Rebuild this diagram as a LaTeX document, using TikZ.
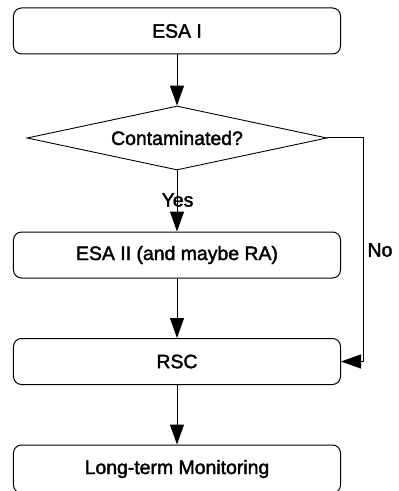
\documentclass[tikz,border=0pt]{standalone}
\usepackage{fontspec}
\setmainfont{Liberation Sans}[FakeBold=2]
\usetikzlibrary{shapes.geometric,arrows.meta}
\begin{document}
\begin{tikzpicture}[x=1bp,y=-1bp,
  font=\fontsize{19.5}{23}\selectfont,
  stepbox/.style={draw,line width=1bp,rounded corners=8bp,minimum width=327bp,minimum height=46bp,inner sep=0pt},
  decision/.style={draw,line width=0.9bp,shape=diamond,minimum width=300bp,minimum height=64bp,inner sep=0pt,aspect=4.7},
  flow/.style={line width=1bp,-{Triangle[length=20bp,width=14bp]}},
  lbl/.style={inner sep=0pt}]
\useasboundingbox (0,0) rectangle (398,491);
\clip (0,0) rectangle (398,491);
\node[stepbox] (esa1) at (177,31) {ESA I};
\node[decision] (cont) at (177,138) {Contaminated?};
\node[stepbox] (esa2) at (177,255) {ESA II (and maybe RA)};
\node[stepbox] (rsc) at (177,361.5) {RSC};
\node[stepbox,minimum height=48bp] (ltm) at (177,469) {Long-term Monitoring};
\node[lbl] (yes) at (177.5,200) {Yes};
\node[lbl] (no) at (380,250) {No};
\coordinate (c1) at (363,138);
\coordinate (c2) at (363,361.5);
\draw[flow] (esa1.south) -- (cont.north);
\draw[flow] (cont.south) -- (esa2.north);
\draw[flow] (esa2.south) -- (rsc.north);
\draw[flow] (rsc.south) -- (ltm.north);
\draw[flow] (cont.east) -- (c1) -- (c2) -- (rsc.east);
\end{tikzpicture}
\end{document}
